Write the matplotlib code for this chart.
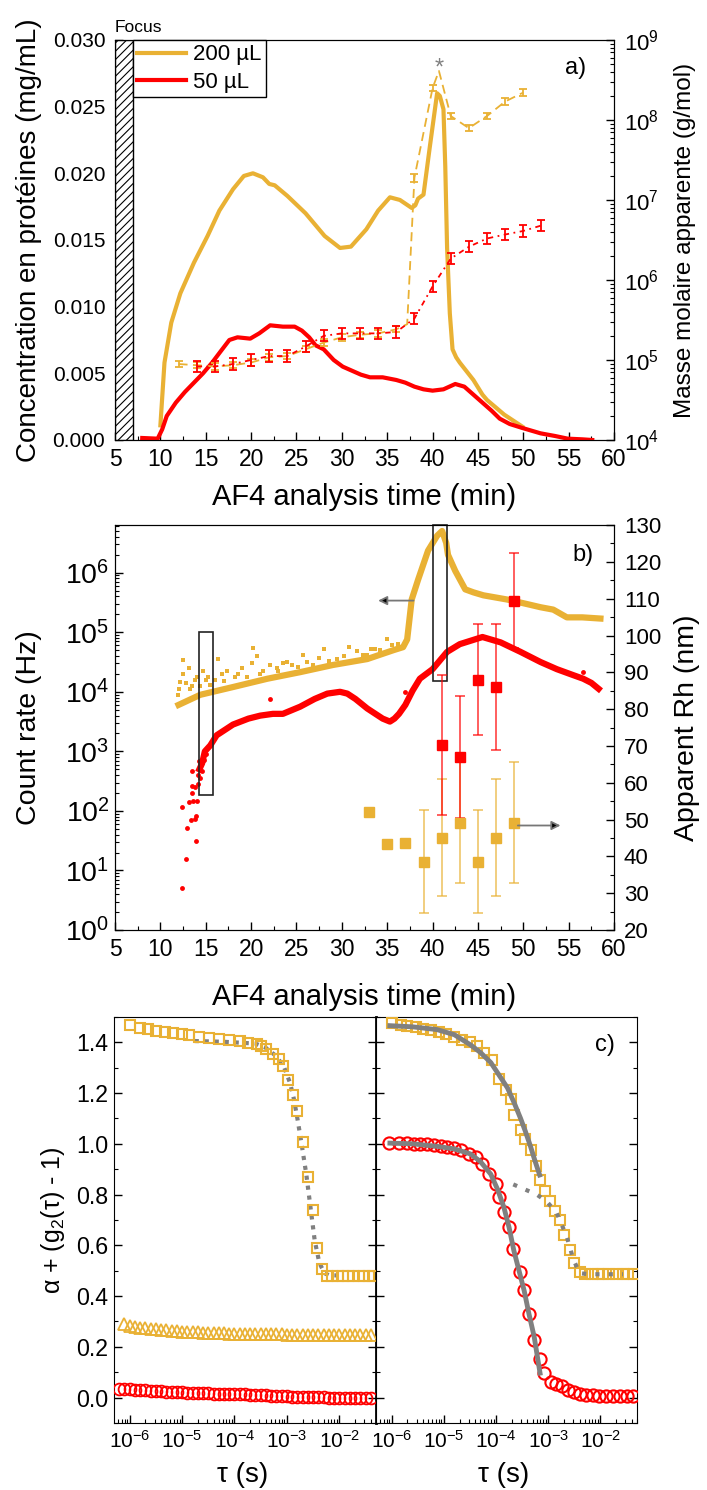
import numpy as np
import matplotlib
matplotlib.use("Agg")
import matplotlib.pyplot as plt
from matplotlib.patches import Rectangle
from matplotlib.ticker import MultipleLocator, LogLocator, NullFormatter, FormatStrFormatter

plt.rcParams['font.family'] = ['Liberation Sans', 'DejaVu Sans']
plt.rcParams['mathtext.fontset'] = 'custom'
plt.rcParams['mathtext.rm'] = 'Liberation Sans'
plt.rcParams['mathtext.it'] = 'Liberation Sans:italic'
plt.rcParams['mathtext.bf'] = 'Liberation Sans:bold'
plt.rcParams['hatch.linewidth'] = 0.8

GOLD = '#E9B134'
RED = '#FF0000'
GREY = '#808080'
nan = np.nan

# ---------------- a) concentration + molar mass ----------------
conc200_t = [10.0, 10.45, 11.2, 12.2, 13.7, 15.2, 16.5, 18.0, 19.2, 20.2, 21.3, 22.0, 22.6, 24.0,
             26.0, 28.1, 29.8, 31.0, 32.7, 34.0, 35.3, 36.4, 37.7, 38.1, 38.4, 39.0, 39.7, 40.5,
             40.8, 41.2, 41.4, 41.6, 41.9, 42.2, 42.6, 43.0, 44.5, 45.5, 46.0, 47.9, 49.9]
conc200 = [0.0011, 0.0058, 0.0088, 0.0110, 0.0133, 0.0153, 0.0172, 0.0188, 0.0198, 0.0200,
           0.0197, 0.0192, 0.0191, 0.0183, 0.0170, 0.0153, 0.0144, 0.0145, 0.0158, 0.0172,
           0.0182, 0.0180, 0.0174, 0.0176, 0.0181, 0.0184, 0.0220, 0.0260, 0.0258, 0.0248,
           0.0205, 0.0144, 0.0095, 0.0068, 0.0062, 0.0058, 0.0045, 0.0034, 0.0030, 0.0019, 0.0010]

conc50_t = [8.0, 9.7, 10.2, 10.7, 11.7, 12.7, 13.7, 14.7, 15.7, 16.7, 17.6, 18.5, 19.9, 20.9,
            22.1, 23.5, 24.8, 25.6, 26.4, 27.1, 28.0, 29.1, 30.1, 31.1, 32.1, 33.1, 34.5, 36.0,
            37.0, 38.0, 39.0, 40.0, 41.2, 42.5, 43.5, 44.5, 45.5, 46.5, 47.4, 48.5, 49.9, 51.9,
            53.5, 54.9, 56.5, 57.6]
conc50 = [0.00015, 0.0001, 0.0008, 0.0018, 0.0028, 0.0036, 0.0043, 0.0050, 0.0058, 0.0067,
          0.0075, 0.0077, 0.0076, 0.0080, 0.0086, 0.0085, 0.0085, 0.0082, 0.0077, 0.0071,
          0.0068, 0.0060, 0.0055, 0.0052, 0.0049, 0.0047, 0.0047, 0.0045, 0.0043, 0.0040,
          0.0038, 0.0037, 0.0038, 0.0042, 0.0040, 0.0034, 0.0028, 0.0022, 0.0016, 0.0012,
          0.0009, 0.0005, 0.0003, 0.0001, 0.00005, 0.0]

M200_t = [12, 14, 16, 18, 20, 22, 24, 26, 28, 30, 32, 34, 36, 37.2, 38, 40, 40.7, 42, 44, 46, 48, 50]
M200 = [8.9e4, 8.6e4, 8.3e4, 8.6e4, 9.3e4, 1.08e5, 1.12e5, 1.36e5, 1.65e5, 1.92e5, 2.07e5,
        2.15e5, 2.42e5, 2.8e5, 1.9e7, 2.5e8, 4.1e8, 1.12e8, 7.9e7, 1.12e8, 1.7e8, 2.2e8]
M200_err_dec = [0.04, 0.04, 0.04, 0.04, 0.04, 0.04, 0.04, 0.04, 0.04, 0.04, 0.04, 0.04, 0.04,
                nan, 0.05, 0.04, nan, 0.04, 0.04, 0.04, 0.04, 0.04]

M50_t = [14, 16, 18, 20, 22, 24, 26, 28, 30, 32, 34, 36, 38, 40, 42, 44, 46, 48, 50, 52]
M50 = [8.3e4, 8.3e4, 8.9e4, 1.0e5, 1.12e5, 1.12e5, 1.47e5, 2.0e5, 2.15e5, 2.15e5, 2.15e5,
       2.24e5, 3.3e5, 8.3e5, 1.85e6, 2.6e6, 3.3e6, 3.7e6, 4.1e6, 4.8e6]
M50_err_dec = [0.07] * len(M50_t)

# ---------------- b) count rate + Rh ----------------
cr200_t = [12.0, 14.4, 18.0, 21.8, 25.4, 29.0, 32.8, 35.7, 36.75, 37.2, 37.7, 38.4, 39.5, 40.5,
           41.05, 41.5, 41.7, 42.5, 43.6, 44.5, 45.6, 48.2, 50.5, 51.9, 53.3, 54.8, 56.5, 58.5]
cr200_log = [3.78, 3.95, 4.08, 4.22, 4.33, 4.45, 4.55, 4.70, 4.75, 4.88, 5.55, 5.88, 6.37, 6.62,
             6.70, 6.50, 6.30, 6.03, 5.72, 5.67, 5.62, 5.55, 5.47, 5.42, 5.38, 5.25, 5.25, 5.23]
cr200_out_t = [11.9, 12.1, 12.2, 12.5, 12.5, 12.8, 13.2, 13.3, 13.5, 13.8, 14.0, 14.4, 14.7, 15.0,
               15.2, 15.5, 16.0, 16.4, 16.8, 17.0, 17.3, 18.2, 18.6, 19.0, 19.5, 20.1, 20.2, 20.6,
               21.0, 21.3, 22.1, 22.8, 23.0, 23.5, 24.0, 24.5, 25.2, 25.7, 26.2, 26.8, 27.5, 28.0,
               28.6, 29.5, 30.2, 30.8, 31.7, 32.3, 32.8, 33.2, 33.6, 34.2, 35.0, 35.5, 36.2]
cr200_out_log = [3.95, 4.05, 4.17, 4.53, 4.30, 4.15, 4.40, 4.05, 4.10, 4.20, 4.25, 4.10, 4.35, 4.20,
                 4.25, 4.12, 4.20, 4.55, 4.30, 4.18, 4.35, 4.25, 4.30, 4.40, 4.25, 4.48, 4.73, 4.60,
                 4.30, 4.35, 4.45, 4.40, 4.35, 4.48, 4.50, 4.45, 4.42, 4.62, 4.50, 4.45, 4.57, 4.72,
                 4.52, 4.55, 4.60, 4.75, 4.68, 4.62, 4.62, 4.72, 4.72, 4.70, 4.88, 4.78, 4.80]

cr50_t = [14.3, 14.6, 14.9, 15.5, 16.2, 17.3, 18.0, 19.7, 21.0, 22.4, 23.5, 25.4, 27.0, 28.4,
          29.8, 30.6, 31.5, 32.8, 34.5, 35.3, 35.8, 36.3, 37.0, 37.8, 38.6, 40.0, 41.6, 43.0,
          45.5, 47.5, 49.7, 51.9, 53.7, 55.5, 56.6, 57.5, 58.3]
cr50_log = [2.70, 2.80, 3.00, 3.10, 3.27, 3.38, 3.45, 3.55, 3.60, 3.63, 3.63, 3.75, 3.88, 3.97,
            4.00, 3.97, 3.88, 3.72, 3.55, 3.50, 3.55, 3.63, 3.78, 4.02, 4.22, 4.38, 4.67, 4.80,
            4.92, 4.83, 4.67, 4.50, 4.38, 4.28, 4.22, 4.15, 4.05]
cr50_out_t = [12.4, 12.8, 12.4, 12.95, 13.4, 13.9, 13.8, 13.9, 13.5, 13.2, 13.6, 14.0, 13.5, 13.8,
              13.5, 14.2, 14.3, 14.6, 14.1, 14.4, 14.8, 15.0, 22.1, 37.0, 56.6]
cr50_out_log = [0.70, 1.20, 2.07, 1.72, 1.85, 1.50, 1.87, 1.92, 2.30, 2.15, 2.17, 2.17, 2.42, 2.40,
                2.67, 2.45, 2.83, 2.67, 2.60, 2.55, 2.85, 2.95, 3.88, 4.00, 4.33]

rh200_t = [33, 35, 37, 39, 41, 43, 45, 47, 49]
rh200 = [52.2, 43.3, 43.6, 38.6, 45.1, 49.2, 38.6, 45.1, 49.2]
rh200_err = [nan, nan, nan, 13.9, 15.8, 16.5, 13.9, 15.8, 16.5]
rh50_t = [41, 43, 45, 47, 49]
rh50 = [70.3, 67.0, 88.0, 86.0, 109.5]
rh50_err = [19.0, 16.5, 15.0, 17.0, 13.0]

# ---------------- c) correlation functions ----------------
sqL_logtau = [-6.0, -5.81, -5.66, -5.49, -5.33, -5.18, -5.01, -4.86, -4.67, -4.48, -4.29, -4.1,
              -3.9, -3.75, -3.58, -3.49, -3.39, -3.26, -3.16, -3.08, -2.97, -2.89, -2.8, -2.7,
              -2.6, -2.51, -2.42, -2.33, -2.23, -2.13, -2.03, -1.93, -1.83, -1.73, -1.63, -1.53,
              -1.43, -1.35]
g200_L = [1.468, 1.458, 1.451, 1.445, 1.440, 1.435, 1.431, 1.427, 1.422, 1.418, 1.414, 1.409,
          1.405, 1.398, 1.392, 1.385, 1.375, 1.352, 1.335, 1.306, 1.251, 1.191, 1.129, 1.007,
          0.870, 0.739, 0.590, 0.505, 0.481, 0.480, 0.479, 0.479, 0.478, 0.478, 0.478, 0.478,
          0.478, 0.478]

dense_logtau = [-6.2, -6.1, -6.0, -5.9, -5.8, -5.7, -5.6, -5.5, -5.4, -5.3, -5.2, -5.1, -5.0,
                -4.9, -4.8, -4.7, -4.6, -4.5, -4.4, -4.3, -4.2, -4.1, -4.0, -3.9, -3.8, -3.7,
                -3.6, -3.5, -3.4, -3.3, -3.2, -3.1, -3.0, -2.9, -2.8, -2.7, -2.6, -2.5, -2.4,
                -2.3, -2.2, -2.1, -2.0, -1.9, -1.8, -1.7, -1.6, -1.5, -1.4]
tri200_L = [nan, 0.288, 0.283, 0.279, 0.276, 0.273, 0.271, 0.269, 0.267, 0.265, 0.263, 0.262,
            0.260, 0.259, 0.258, 0.257, 0.256, 0.255, 0.254, 0.253, 0.253, 0.252, 0.252, 0.251,
            0.251, 0.250, 0.250, 0.250, 0.249, 0.249, 0.249, 0.249, 0.248, 0.248, 0.248, 0.248,
            0.248, 0.248, 0.248, 0.248, 0.248, 0.248, 0.248, 0.248, 0.248, 0.248, 0.248, 0.248,
            0.248]
circ50_L = [0.035, 0.033, 0.032, 0.031, 0.030, 0.029, 0.027, 0.025, 0.024, 0.023, 0.022, 0.021,
            0.020, 0.019, 0.019, 0.018, 0.018, 0.017, 0.016, 0.016, 0.015, 0.015, 0.014, 0.013,
            0.013, 0.012, 0.011, 0.010, 0.009, 0.008, 0.007, 0.006, 0.005, 0.004, 0.004, 0.003,
            0.002, 0.002, 0.001, 0.001, 0.0, 0.0, 0.0, 0.0, 0.0, 0.0, 0.0, 0.0, 0.0]
fitL_logtau = [-4.76, -4.2, -3.6, -3.4, -3.2, -3.05, -2.94, -2.87, -2.8, -2.72, -2.63, -2.55,
               -2.47, -2.38, -2.28, -2.2, -1.94]
fitL = [1.405, 1.402, 1.395, 1.378, 1.345, 1.30, 1.24, 1.18, 1.10, 1.0, 0.88, 0.75, 0.62, 0.53,
        0.49, 0.482, 0.481]

sqR_logtau = [-6.0, -5.83, -5.7, -5.54, -5.39, -5.25, -5.1, -4.95, -4.81, -4.65, -4.5, -4.36,
              -4.23, -4.07, -3.95, -3.8, -3.72, -3.65, -3.53, -3.44, -3.34, -3.23, -3.15, -3.07,
              -2.96, -2.88, -2.78, -2.70, -2.58, -2.5, -2.4, -2.29, -2.16, -2.04, -1.95, -1.83,
              -1.7, -1.57, -1.47, -1.35]
g200_R = [1.475, 1.470, 1.466, 1.461, 1.454, 1.447, 1.440, 1.431, 1.422, 1.411, 1.401, 1.385,
          1.359, 1.332, 1.256, 1.214, 1.175, 1.115, 1.056, 1.019, 0.975, 0.914, 0.859, 0.813,
          0.773, 0.736, 0.701, 0.642, 0.580, 0.532, 0.494, 0.487, 0.486, 0.486, 0.485, 0.485,
          0.485, 0.485, 0.485, 0.485]
cR_logtau = [-6.05, -5.86, -5.7, -5.57, -5.45, -5.32, -5.19, -5.06, -4.94, -4.81, -4.68, -4.52,
             -4.39, -4.27, -4.14, -4.01, -3.95, -3.85, -3.75, -3.67, -3.54, -3.46, -3.37, -3.27,
             -3.16, -3.08, -2.95, -2.85, -2.74, -2.63, -2.51, -2.4, -2.28, -2.15, -2.02, -1.89,
             -1.76, -1.63, -1.5, -1.37]
g50_R = [1.004, 1.004, 1.003, 1.0, 1.0, 0.998, 0.997, 0.992, 0.989, 0.983, 0.975, 0.961, 0.948,
         0.922, 0.882, 0.843, 0.790, 0.731, 0.672, 0.587, 0.495, 0.422, 0.330, 0.228, 0.153,
         0.096, 0.061, 0.054, 0.044, 0.031, 0.022, 0.015, 0.012, 0.010, 0.008, 0.008, 0.008,
         0.008, 0.008, 0.008]
fit200R_logtau = [-6.08, -5.6, -5.13, -4.8, -4.49, -4.3, -4.1, -3.94, -3.78, -3.65, -3.53, -3.44,
                  -3.34, -3.25, -3.15]
fit200R = [1.466, 1.461, 1.45, 1.43, 1.39, 1.36, 1.32, 1.27, 1.22, 1.16, 1.10, 1.05, 0.99, 0.93,
           0.868]
fit50R_logtau = [-6.08, -5.6, -5.13, -4.8, -4.49, -4.3, -4.1, -3.97, -3.85, -3.75, -3.66, -3.56,
                 -3.46, -3.37, -3.27, -3.15]
fit50R = [1.003, 1.0, 0.99, 0.98, 0.96, 0.93, 0.88, 0.82, 0.75, 0.67, 0.58, 0.50, 0.42, 0.33,
          0.24, 0.087]
dotR_logtau = [-3.67, -3.22, -3.03, -2.84, -2.65, -2.52, -2.4, -2.2, -1.95, -1.57]
dotR = [0.84, 0.80, 0.773, 0.728, 0.637, 0.545, 0.49, 0.486, 0.486, 0.486]


def log_err(vals, dec):
    v = np.array(vals, dtype=float)
    d = np.array(dec, dtype=float)
    return [v - v / 10 ** d, v * 10 ** d - v]


def style_ticks(ax, size, pad):
    ax.tick_params(which='major', direction='in', length=6, width=1, labelsize=size, pad=pad)
    ax.tick_params(which='minor', direction='in', length=3, width=0.8)


fig = plt.figure(figsize=(7.07, 14.90), dpi=100)

# ====================== panel a ======================
ax = fig.add_axes([0.1627, 0.7047, 0.7058, 0.2685])
ax.add_patch(Rectangle((5, 0), 2, 0.030, facecolor='white', edgecolor='black',
                       hatch='////', lw=1.0, zorder=3))
l1, = ax.plot(conc200_t, conc200, color=GOLD, lw=3, label='200 µL', zorder=4)
l2, = ax.plot(conc50_t, conc50, color=RED, lw=3, label='50 µL', zorder=4)
ax.set_xlim(5, 60)
ax.set_ylim(0, 0.030)
ax.xaxis.set_major_locator(MultipleLocator(5))
ax.xaxis.set_minor_locator(MultipleLocator(2.5))
ax.yaxis.set_major_locator(MultipleLocator(0.005))
ax.yaxis.set_minor_locator(MultipleLocator(0.0025))
ax.yaxis.set_major_formatter(FormatStrFormatter('%.3f'))
style_ticks(ax, 15, 7)
ax.tick_params(axis='x', labelsize=16.5, pad=6)
ax.set_xlabel('AF4 analysis time (min)', fontsize=21)
ax.set_ylabel('Concentration en protéines (mg/mL)', fontsize=20)
ax.xaxis.set_label_coords(0.5, -0.1075)
ax.yaxis.set_label_coords(-0.146, 0.5)
ax.text(0.0, 1.012, 'Focus', transform=ax.transAxes, fontsize=12.5, ha='left', va='bottom')
ax.text(0.922, 0.93, 'a)', transform=ax.transAxes, fontsize=17, ha='center', va='center')

axr = ax.twinx()
axr.set_yscale('log')
axr.set_ylim(1e4, 1e9)
axr.plot(M200_t, M200, color=GOLD, lw=1.3, ls=(0, (5, 3)))
axr.errorbar(M200_t, M200, yerr=log_err(M200, M200_err_dec), fmt='none', ecolor=GOLD,
             elinewidth=1.3, capsize=3, capthick=1.3)
axr.plot(M50_t, M50, color=RED, lw=1.3, ls=(0, (3, 2.5, 1, 2.5)))
axr.errorbar(M50_t, M50, yerr=log_err(M50, M50_err_dec), fmt='none', ecolor=RED,
             elinewidth=1.3, capsize=3, capthick=1.3)
axr.text(40.7, 3.7e8, '*', color=GREY, fontsize=17, ha='center', va='baseline')
axr.yaxis.set_major_locator(LogLocator(base=10, numticks=12))
axr.yaxis.set_minor_locator(LogLocator(base=10, subs=np.arange(2, 10), numticks=12))
axr.yaxis.set_minor_formatter(NullFormatter())
style_ticks(axr, 16, 7)
axr.set_ylabel('Masse molaire apparente (g/mol)', fontsize=17.5)
axr.yaxis.set_label_coords(1.12, 0.5)
leg = axr.legend(handles=[l1, l2], loc='upper left', bbox_to_anchor=(18 / 499, 1.0),
                 borderaxespad=0, fancybox=False, edgecolor='black', framealpha=1,
                 fontsize=16, handlelength=2.2, borderpad=0.2, labelspacing=0.3,
                 handletextpad=0.3)
leg.get_frame().set_linewidth(1.0)

# ====================== panel b ======================
bx = fig.add_axes([0.1627, 0.3758, 0.7058, 0.2718])
bx.set_yscale('log')
bx.plot(cr200_out_t, 10 ** np.array(cr200_out_log), ls='none', marker='s', ms=3, mew=0,
        color=GOLD)
bx.plot(cr200_t, 10 ** np.array(cr200_log), color=GOLD, lw=4.5)
bx.plot(cr50_out_t, 10 ** np.array(cr50_out_log), ls='none', marker='o', ms=3.5, mew=0,
        color=RED)
bx.plot(cr50_t, 10 ** np.array(cr50_log), color=RED, lw=4.5)
bx.add_patch(Rectangle((14.25, 185), 1.6, 1e5 - 185, fill=False, edgecolor='#222222', lw=1.2,
                       zorder=5))
bx.add_patch(Rectangle((40.05, 1.5e4), 1.55, 6.3e6 - 1.5e4, fill=False, edgecolor='#222222',
                       lw=1.2, zorder=5, clip_on=False))
bx.annotate('', xy=(34, 3.4e5), xytext=(37.9, 3.4e5),
            arrowprops=dict(arrowstyle='-|>', ec='#777777', fc='black', lw=1.3,
                            mutation_scale=13, shrinkA=0, shrinkB=0))
bx.set_xlim(5, 60)
bx.set_ylim(1, 6.3e6)
bx.xaxis.set_major_locator(MultipleLocator(5))
bx.xaxis.set_minor_locator(MultipleLocator(2.5))
bx.yaxis.set_major_locator(LogLocator(base=10, numticks=12))
bx.yaxis.set_minor_locator(LogLocator(base=10, subs=np.arange(2, 10), numticks=12))
bx.yaxis.set_minor_formatter(NullFormatter())
style_ticks(bx, 16.5, 6)
bx.tick_params(axis='y', which='major', labelsize=20.5, pad=4)
bx.set_xlabel('AF4 analysis time (min)', fontsize=21)
bx.set_ylabel('Count rate (Hz)', fontsize=20.5)
bx.xaxis.set_label_coords(0.5, -0.131)
bx.yaxis.set_label_coords(-0.146, 0.5)
bx.text(0.938, 0.926, 'b)', transform=bx.transAxes, fontsize=17, ha='center', va='center')

bx2 = bx.twinx()
bx2.set_ylim(20, 130)
bx2.errorbar(rh200_t, rh200, yerr=rh200_err, fmt='s', ms=7, color=GOLD,
             ecolor=(0.914, 0.694, 0.204, 0.8), elinewidth=1.1, capsize=3.5, capthick=1.1)
bx2.errorbar(rh50_t, rh50, yerr=rh50_err, fmt='s', ms=7, color=RED,
             ecolor=(1.0, 0.0, 0.0, 0.8), elinewidth=1.1, capsize=3.5, capthick=1.1)
bx2.annotate('', xy=(54.1, 48.4), xytext=(49.4, 48.4),
             arrowprops=dict(arrowstyle='-|>', ec='#777777', fc='black', lw=1.3,
                             mutation_scale=13, shrinkA=0, shrinkB=0))
bx2.yaxis.set_major_locator(MultipleLocator(10))
bx2.yaxis.set_minor_locator(MultipleLocator(5))
style_ticks(bx2, 16, 7)
bx2.set_ylabel('Apparent Rh (nm)', fontsize=20.5)
bx2.yaxis.set_label_coords(1.12, 0.5)

# ====================== panel c ======================
cl = fig.add_axes([0.1612, 0.0450, 0.3706, 0.2725])
cr = fig.add_axes([0.5318, 0.0450, 0.3692, 0.2725])

cl.plot(10 ** np.array(fitL_logtau), fitL, color=GREY, lw=3, ls=(0, (1, 1.4)), zorder=2)
cl.plot(10 ** np.array(sqL_logtau), g200_L, ls='none', marker='s', ms=7.8, mfc='none',
        mec=GOLD, mew=1.5, zorder=3)
cl.plot(10 ** np.array(dense_logtau), tri200_L, ls='none', marker='^', ms=8, mfc='none',
        mec=GOLD, mew=1.3, zorder=3)
cl.plot(10 ** np.array(dense_logtau), circ50_L, ls='none', marker='o', ms=8.5, mfc='none',
        mec=RED, mew=1.3, zorder=3)

cr.plot(10 ** np.array(sqR_logtau), g200_R, ls='none', marker='s', ms=7.8, mfc='none',
        mec=GOLD, mew=1.5, zorder=3)
cr.plot(10 ** np.array(cR_logtau), g50_R, ls='none', marker='o', ms=8.8, mfc='none',
        mec=RED, mew=1.5, zorder=3)
cr.plot(10 ** np.array(dotR_logtau), dotR, color=GREY, lw=3, ls=(0, (1, 2.2)), zorder=4)
cr.plot(10 ** np.array(fit200R_logtau), fit200R, color=GREY, lw=3.5, zorder=4,
        solid_capstyle='butt')
cr.plot(10 ** np.array(fit50R_logtau), fit50R, color=GREY, lw=3.5, zorder=4,
        solid_capstyle='butt')

for a in (cl, cr):
    a.set_xscale('log')
    a.set_xlim(10 ** -6.3, 10 ** -1.3)
    a.set_ylim(-0.1, 1.5)
    a.xaxis.set_major_locator(LogLocator(base=10, numticks=12))
    a.xaxis.set_minor_locator(LogLocator(base=10, subs=np.arange(2, 10), numticks=12))
    a.xaxis.set_minor_formatter(NullFormatter())
    a.yaxis.set_major_locator(MultipleLocator(0.2))
    a.yaxis.set_minor_locator(MultipleLocator(0.1))
    style_ticks(a, 15, 5)
    a.tick_params(axis='y', which='both', left=True, right=True)
    a.set_xlabel('τ (s)', fontsize=20)
    a.xaxis.set_label_coords(0.49, -0.096)

cl.tick_params(axis='y', which='major', labelsize=16.7, pad=4)
cr.tick_params(axis='y', which='both', labelleft=False)
cl.spines['right'].set_linewidth(2.0)
cl.set_ylabel('α + (g$_2$(τ) - 1)', fontsize=18)
cl.yaxis.set_label_coords(-0.179, 0.5)
cr.text(0.877, 0.931, 'c)', transform=cr.transAxes, fontsize=17, ha='center', va='center')

fig.savefig('out.png', dpi=100)
